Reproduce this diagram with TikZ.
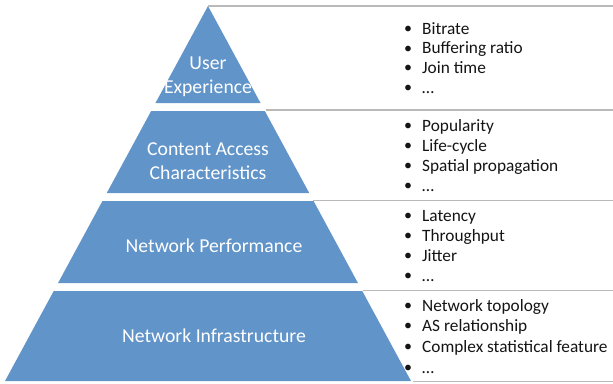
\documentclass[tikz,border=0pt]{standalone}
\usepackage{fontspec}
\setmainfont{Carlito}
\definecolor{pyr}{RGB}{97,148,201}
\definecolor{rule}{RGB}{185,185,185}
\definecolor{txt}{RGB}{20,20,20}
\begin{document}
\begin{tikzpicture}[x=1pt,y=-1pt,
  layer/.style={fill=pyr,draw=none},
  lab/.style={text=white,font=\fontsize{19.7}{24}\selectfont,align=center,inner sep=0pt},
  sep/.style={draw=rule,line width=1.8pt},
  item/.style={text=txt,font=\fontsize{17.3}{20}\selectfont,anchor=west,inner sep=0pt,text height=11pt,text depth=3pt},
  bul/.style={text=txt,font=\fontsize{16}{20}\selectfont,inner sep=0pt}]
\useasboundingbox (0,0) rectangle (613,383);
% edge function: left x = 208 - 0.5413*(y-6), right x = 208 + 0.5413*(y-6)
\def\sl{0.5413}
% layers
\fill[layer] (208,6) -- ({208-\sl*97},103) -- ({208+\sl*97},103) -- cycle;
\fill[layer] ({208-\sl*105},111) -- ({208-\sl*187},193) -- ({208+\sl*187},193) -- ({208+\sl*105},111) -- cycle;
\fill[layer] ({208-\sl*195},201) -- ({208-\sl*277},283) -- ({208+\sl*277},283) -- ({208+\sl*195},201) -- cycle;
\fill[layer] ({208-\sl*285},291) -- ({208-\sl*375},381) -- ({208+\sl*375},381) -- ({208+\sl*285},291) -- cycle;
% separator rules
\coordinate (r0a) at (208,6);   \coordinate (r0b) at (613,6);
\coordinate (r1a) at (266,110); \coordinate (r1b) at (613,110);
\coordinate (r2a) at (313,200.5); \coordinate (r2b) at (613,200.5);
\coordinate (r3a) at (363,290.5); \coordinate (r3b) at (613,290.5);
\coordinate (r4a) at (413,381.5); \coordinate (r4b) at (613,381.5);
\draw[sep] (r0a) -- (r0b);
\draw[sep] (r1a) -- (r1b);
\draw[sep] (r2a) -- (r2b);
\draw[sep] (r3a) -- (r3b);
\draw[sep] (r4a) -- (r4b);
% labels
\node[lab] (l1) at (208,77) {User\\Experience};
\node[lab] (l2) at (208,161) {Content Access\\Characteristics};
\node[lab] (l3) at (214,246) {Network Performance};
\node[lab] (l4) at (214,336) {Network Infrastructure};
% lists
\foreach \y/\t [count=\i] in {30/Bitrate,49.5/Buffering ratio,69/Join time,89/\dots,
  127/Popularity,147/Life-cycle,167/Spatial propagation,187/\dots,
  217/Latency,237/Throughput,257/Jitter,277/\dots,
  307/Network topology,327/AS relationship,348/Complex statistical feature,369/\dots}{
  \node[bul] (b\i) at (408,\y) {•};
  \node[item] (t\i) at (422,\y) {\t};
}
\end{tikzpicture}
\end{document}
